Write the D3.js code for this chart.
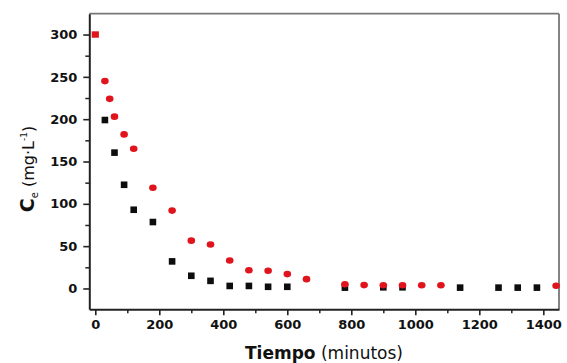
<!DOCTYPE html>
<html>
<head>
<meta charset="utf-8">
<script src="https://cdn.jsdelivr.net/npm/d3@7"></script>
<style>
  body { margin: 0; background: #fff; }
  svg { display: block; }
  .tick text { font-family: "DejaVu Sans", sans-serif; font-weight: bold; font-size: 13px; fill: #111; }
</style>
</head>
<body>
<div id="chart"></div>
<script>
// time in minutes and equilibrium concentration (mg/L)
const tiempoNegro = [30, 60, 90, 120, 180, 240, 300, 360, 420, 480, 540, 600, 780, 900, 960, 1140, 1260, 1320, 1380];
const ceNegro     = [199, 160.5, 122.5, 93, 78.5, 32, 15, 9, 3, 3, 2, 2, 1, 1.4, 1.4, 1, 1, 1, 1];

const tiempoRojo = [30, 45, 60, 90, 120, 180, 240, 300, 360, 420, 480, 540, 600, 660, 780, 840, 900, 960, 1020, 1080, 1440];
const ceRojo     = [245, 224, 203, 182, 165, 119, 92, 56.5, 52, 33, 21.5, 21, 17, 11, 5, 4, 3.8, 3.8, 3.8, 3.8, 3.3];

// starting concentration
const tiempoInicial = [0];
const ceInicial = [300];

const xTicks = [0, 200, 400, 600, 800, 1000, 1200, 1400];
const xMinor = [100, 300, 500, 700, 900, 1100, 1300];
const yTicks = [0, 50, 100, 150, 200, 250, 300];
const yMinor = [25, 75, 125, 175, 225, 275];

const W = 567, H = 363;
const plot = { left: 89.3, right: 559, top: 13.7, bottom: 309.3 };

const svg = d3.select("#chart").append("svg")
    .attr("width", W)
    .attr("height", H);

const xScale = d3.scaleLinear().domain([-18.75, 1449]).range([plot.left, plot.right]);
const yScale = d3.scaleLinear().domain([-24.6, 324.6]).range([plot.bottom, plot.top]);

// frame: top and right in grey
svg.append("line")
    .attr("x1", plot.left).attr("x2", plot.right)
    .attr("y1", plot.top).attr("y2", plot.top)
    .attr("stroke", "#777").attr("stroke-width", 1.8);
svg.append("line")
    .attr("x1", plot.right).attr("x2", plot.right)
    .attr("y1", plot.top).attr("y2", plot.bottom)
    .attr("stroke", "#777").attr("stroke-width", 1.8);

// minor ticks
svg.append("g")
    .attr("transform", `translate(0,${plot.bottom})`)
    .call(d3.axisBottom(xScale).tickValues(xMinor).tickSize(4).tickFormat(""))
    .call(g => g.select(".domain").remove())
    .call(g => g.selectAll("line").attr("stroke", "#222").attr("stroke-width", 1.5));
svg.append("g")
    .attr("transform", `translate(${plot.left},0)`)
    .call(d3.axisLeft(yScale).tickValues(yMinor).tickSize(4).tickFormat(""))
    .call(g => g.select(".domain").remove())
    .call(g => g.selectAll("line").attr("stroke", "#222").attr("stroke-width", 1.5));

// major axes
svg.append("g")
    .attr("transform", `translate(0,${plot.bottom})`)
    .call(d3.axisBottom(xScale).tickValues(xTicks).tickFormat(d3.format("d")).tickSize(6).tickPadding(4).tickSizeOuter(0))
    .call(g => g.select(".domain").attr("stroke", "#222").attr("stroke-width", 2))
    .call(g => g.selectAll(".tick line").attr("stroke", "#222").attr("stroke-width", 1.6));

svg.append("g")
    .attr("transform", `translate(${plot.left},0)`)
    .call(d3.axisLeft(yScale).tickValues(yTicks).tickSize(6).tickPadding(6).tickSizeOuter(0))
    .call(g => g.select(".domain").attr("stroke", "#222").attr("stroke-width", 2))
    .call(g => g.selectAll(".tick line").attr("stroke", "#222").attr("stroke-width", 1.6));

// black squares
const negro = tiempoNegro.map((t, i) => ({ t: t, c: ceNegro[i] }));
const s = 6.6;
svg.append("g").selectAll("rect")
    .data(negro)
    .join("rect")
    .attr("x", d => xScale(d.t) - s / 2)
    .attr("y", d => yScale(d.c) - s / 2)
    .attr("width", s)
    .attr("height", s)
    .attr("fill", "#0d0d0d");

// red circles
const rojo = tiempoRojo.map((t, i) => ({ t: t, c: ceRojo[i] }));
svg.append("g").selectAll("ellipse")
    .data(rojo)
    .join("ellipse")
    .attr("cx", d => xScale(d.t))
    .attr("cy", d => yScale(d.c))
    .attr("rx", 3.8)
    .attr("ry", 3.3)
    .attr("fill", "#e0141c");

// initial point (red square)
const inicial = tiempoInicial.map((t, i) => ({ t: t, c: ceInicial[i] }));
svg.append("g").selectAll("rect")
    .data(inicial)
    .join("rect")
    .attr("x", d => xScale(d.t) - 3.6)
    .attr("y", d => yScale(d.c) - 3.2)
    .attr("width", 7.2)
    .attr("height", 6.4)
    .attr("fill", "#e0141c");

// axis titles
const xTitle = svg.append("text")
    .attr("x", 324)
    .attr("y", 359)
    .attr("text-anchor", "middle")
    .style("font-family", "'DejaVu Sans', sans-serif")
    .style("font-size", "17px")
    .style("fill", "#111");
xTitle.append("tspan").style("font-weight", "bold").text("Tiempo");
xTitle.append("tspan").text(" (minutos)");

const yTitle = svg.append("text")
    .attr("transform", "translate(34,169) rotate(-90)")
    .attr("text-anchor", "middle")
    .style("font-family", "'DejaVu Sans', sans-serif")
    .style("font-size", "16px")
    .style("fill", "#111");
yTitle.append("tspan").style("font-weight", "bold").style("font-size", "19px").text("C");
yTitle.append("tspan").attr("dy", 4).style("font-size", "10px").text("e");
yTitle.append("tspan").attr("dy", -4).text(" (mg·L");
yTitle.append("tspan").attr("dy", -7).style("font-size", "9px").text("-1");
yTitle.append("tspan").attr("dy", 7).text(")");
</script>
</body>
</html>
